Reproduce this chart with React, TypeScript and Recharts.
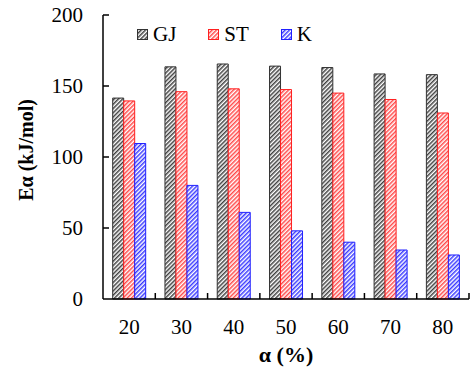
import React from 'react'
import { BarChart, Bar, XAxis, YAxis } from 'recharts'

// valeurs (kJ/mol)
const categories = ['20', '30', '40', '50', '60', '70', '80']
const gjValues = [141.5, 163.5, 165.5, 164, 163, 158.5, 158]
const stValues = [139.5, 146, 148, 147.5, 145, 140.5, 131]
const kValues = [109.5, 80, 61, 48, 40, 34.5, 31]
const yTicks = [0, 50, 100, 150, 200]

const series = [
  { key: 'GJ', name: 'GJ', stroke: '#333333', stripe: '#404040', pattern: 'hatchGJ' },
  { key: 'ST', name: 'ST', stroke: '#ff2020', stripe: '#ff4a4a', pattern: 'hatchST' },
  { key: 'K', name: 'K', stroke: '#2020ff', stripe: '#3a3aff', pattern: 'hatchK' }
]

const data = categories.map((c, i) => ({
  name: c,
  GJ: gjValues[i],
  ST: stValues[i],
  K: kValues[i]
}))

const W = 470
const H = 370
const FONT = '"Liberation Serif", "Times New Roman", serif'
const TICK_MARGIN = 20

function YTick(props: any) {
  const { x, y, payload } = props
  const axisX = x + TICK_MARGIN
  return (
    <g>
      {payload.value !== 0 && (
        <line x1={axisX} x2={axisX + 6} y1={y} y2={y} stroke='#000' strokeWidth={1.5} />
      )}
      <text x={x} y={y} dy='0.35em' textAnchor='end' fontSize={21} fontFamily={FONT} fill='#000'>
        {payload.value}
      </text>
    </g>
  )
}

function XTick(props: any) {
  const { x, y, payload } = props
  const axisY = y - TICK_MARGIN
  const half = payload.offset || 26
  return (
    <g>
      <line x1={x + half} x2={x + half} y1={axisY} y2={axisY - 6} stroke='#000' strokeWidth={1.5} />
      <text x={x} y={y} dy='0.71em' textAnchor='middle' fontSize={21} fontFamily={FONT} fill='#000'>
        {payload.value}
      </text>
    </g>
  )
}

function YLabel(props: any) {
  const { viewBox } = props
  const cx = viewBox.x + 26
  const cy = viewBox.y + viewBox.height / 2 - 7
  return (
    <text
      x={cx}
      y={cy}
      transform={`rotate(-90, ${cx}, ${cy})`}
      textAnchor='middle'
      dominantBaseline='central'
      fontFamily={FONT}
      fontSize={20}
      fontWeight='bold'
      fill='#000'
    >
      Eα (kJ/mol)
    </text>
  )
}

function LegendBox() {
  return (
    <div
      style={{
        position: 'absolute',
        left: 137,
        top: 24,
        display: 'flex',
        gap: 32,
        fontFamily: FONT,
        fontSize: 21,
        color: '#000'
      }}
    >
      {series.map(s => (
        <div key={s.key} style={{ display: 'flex', alignItems: 'center', gap: 5 }}>
          <svg width={11} height={11} style={{ display: 'block' }}>
            <rect x={0.5} y={0.5} width={10} height={10} fill={`url(#${s.pattern})`} stroke={s.stroke} />
          </svg>
          <span style={{ lineHeight: '21px' }}>{s.name}</span>
        </div>
      ))}
    </div>
  )
}

export default function App() {
  return (
    <div style={{ position: 'absolute', left: 0, top: 0, width: W, height: H, background: '#fff' }}>
      <BarChart
        width={W}
        height={H}
        data={data}
        margin={{ top: 15, right: 1, left: 0, bottom: 0 }}
        barCategoryGap='18.5%'
        barGap={0}
      >
        <defs>
          {series.map(s => (
            <pattern
              key={s.pattern}
              id={s.pattern}
              width={3}
              height={3}
              patternUnits='userSpaceOnUse'
              patternTransform='rotate(45)'
            >
              <rect width={3} height={3} fill='#fff' />
              <rect width={1.5} height={3} fill={s.stripe} />
            </pattern>
          ))}
        </defs>
        <XAxis
          dataKey='name'
          height={71}
          axisLine={{ stroke: '#000', strokeWidth: 1.5 }}
          tickLine={false}
          tickSize={0}
          tickMargin={TICK_MARGIN}
          tick={XTick}
          interval={0}
          label={{
            value: 'α (%)',
            position: 'insideBottom',
            offset: 8,
            style: { fontFamily: FONT, fontSize: 22, fontWeight: 'bold', fill: '#000' }
          }}
        />
        <XAxis
          xAxisId='top'
          dataKey='name'
          orientation='top'
          height={0}
          tick={false}
          tickLine={false}
          axisLine={{ stroke: '#000', strokeWidth: 1.5 }}
        />
        <YAxis
          width={103}
          domain={[0, 200]}
          ticks={yTicks}
          interval={0}
          axisLine={{ stroke: '#000', strokeWidth: 1.5 }}
          tickLine={false}
          tickSize={0}
          tickMargin={TICK_MARGIN}
          tick={YTick}
          label={<YLabel />}
        />
        {series.map(s => (
          <Bar
            key={s.key}
            dataKey={s.key}
            name={s.name}
            fill={`url(#${s.pattern})`}
            stroke={s.stroke}
            strokeWidth={1}
            isAnimationActive={false}
          />
        ))}
      </BarChart>
      <LegendBox />
    </div>
  )
}
